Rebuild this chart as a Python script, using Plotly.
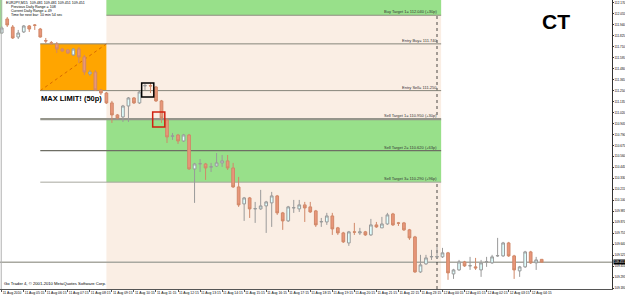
import plotly.graph_objects as go

# ---------------- data ----------------
bar_index = list(range(99))  # M15 bars, 11 Aug 04:15 -> 12 Aug 04:45
opens = [111.854,112.001,111.917,111.812,111.865,111.928,111.938,111.896,111.775,111.752,
         111.739,111.686,111.676,111.624,111.686,111.603,111.424,111.445,111.257,111.225,
         111.121,110.995,110.974,111.089,111.173,111.121,111.299,111.303,111.288,111.142,
         110.942,110.770,110.785,110.722,110.785,110.429,110.481,110.481,110.448,110.460,
         110.492,110.513,110.439,110.240,110.062,110.125,110.010,110.010,110.041,110.073,
         110.146,109.968,109.884,110.020,110.010,110.052,110.031,109.989,109.873,109.873,
         109.936,109.811,109.758,109.653,109.769,109.758,109.769,109.737,109.842,109.811,
         109.852,109.957,109.863,109.863,109.790,109.716,109.349,109.433,109.507,109.505,
         109.507,109.549,109.328,109.370,109.454,109.412,109.402,109.370,109.454,109.444,
         109.517,109.517,109.653,109.517,109.360,109.402,109.559,109.444,109.481]
highs = [111.928,112.022,111.938,111.886,111.938,111.938,111.948,111.907,111.802,111.770,
         111.760,111.697,111.686,111.697,111.707,111.624,111.466,111.466,111.267,111.236,
         111.142,111.005,111.100,111.183,111.183,111.246,111.320,111.330,111.299,111.152,
         110.963,110.806,110.796,110.796,110.796,110.492,110.533,110.492,110.492,110.596,
         110.575,110.575,110.492,110.345,110.135,110.135,110.083,110.209,110.094,110.188,
         110.156,109.978,110.041,110.104,110.104,110.083,110.083,109.999,109.915,109.968,
         109.968,109.821,109.769,109.779,109.863,109.811,109.779,109.905,109.873,109.926,
         109.968,109.968,109.873,109.873,109.800,109.727,109.528,109.528,109.580,109.612,
         109.601,109.559,109.381,109.475,109.465,109.507,109.496,109.475,109.507,109.528,
         109.706,109.664,109.664,109.528,109.412,109.570,109.570,109.507,109.481]
lows = [111.844,111.917,111.791,111.791,111.854,111.865,111.886,111.805,111.749,111.728,
        111.644,111.655,111.634,111.614,111.540,111.414,111.404,111.246,111.204,111.110,
        110.911,110.953,110.921,110.921,111.110,111.110,111.257,111.225,111.131,110.911,
        110.701,110.733,110.691,110.712,110.418,110.073,110.397,110.314,110.397,110.450,
        110.450,110.418,110.230,110.031,109.884,109.915,109.863,109.999,109.758,109.821,
        109.947,109.790,109.873,109.968,109.978,109.873,109.968,109.821,109.821,109.842,
        109.737,109.737,109.653,109.622,109.737,109.737,109.727,109.727,109.811,109.811,
        109.842,109.831,109.831,109.779,109.685,109.339,109.339,109.423,109.475,109.486,
        109.496,109.266,109.276,109.360,109.402,109.370,109.370,109.297,109.402,109.433,
        109.507,109.507,109.507,109.276,109.297,109.391,109.433,109.370,109.451]
closes = [111.907,111.938,111.802,111.854,111.928,111.896,111.935,111.812,111.770,111.749,
          111.686,111.666,111.644,111.686,111.603,111.445,111.445,111.257,111.225,111.121,
          110.995,110.963,111.089,111.173,111.121,111.236,111.303,111.299,111.142,110.963,
          110.764,110.775,110.722,110.785,110.429,110.481,110.485,110.439,110.452,110.492,
          110.513,110.439,110.240,110.052,110.125,110.010,110.013,110.041,110.083,110.146,
          109.968,109.884,110.031,110.023,110.052,110.020,109.978,109.842,109.877,109.936,
          109.800,109.758,109.664,109.769,109.766,109.769,109.737,109.842,109.821,109.852,
          109.947,109.842,109.860,109.790,109.706,109.349,109.423,109.496,109.510,109.510,
          109.549,109.339,109.370,109.454,109.412,109.415,109.391,109.444,109.457,109.507,
          109.520,109.653,109.517,109.370,109.402,109.559,109.444,109.475,109.451]

time_label_bars = list(range(0, 97, 4))
time_labels = ["11 Aug 2010"] + [f"11 Aug {h:02d}:15" for h in range(5, 24)] + \
              [f"12 Aug {h:02d}:15" for h in range(0, 5)]

price_ticks = [round(109.180 + 0.115 * k, 3) for k in range(27)]

level_names = ["Buy Target 1= 112.040 (+30p)", "Entry Buy= 111.740", "Entry Sell= 111.250",
               "Sell Target 1= 110.950 (+30p)", "Sell Target 2= 110.620 (+63p)",
               "Sell Target 3= 110.290 (+96p)"]
level_prices = [112.040, 111.740, 111.250, 110.950, 110.620, 110.290]
level_start_bar = [19, 7, 7, 7, 7, 7]

zone_start_bar = 19
zone_end_bar = 79.75
limit_start_bar = 7
day_separator_bar = 79
current_price = 109.451

# highlight boxes: (first bar, last bar, top price, bottom price, colour)
boxes = [(26, 27, 111.330, 111.183, "black"), (28, 29, 111.026, 110.869, "#D02010")]

# ---------------- figure ----------------
X0, X1 = -0.31, 110.76
Y0, Y1 = 109.17, 112.20

fig = go.Figure()
fig.add_trace(go.Candlestick(
    x=bar_index, open=opens, high=highs, low=lows, close=closes,
    increasing=dict(fillcolor="#E0FFFF", line=dict(color="#9A9A9A", width=1)),
    decreasing=dict(fillcolor="#E9967A", line=dict(color="#D08868", width=1)),
    whiskerwidth=0, showlegend=False, hoverinfo="skip"))

shapes = []
# beige session zone
shapes.append(dict(type="rect", xref="x", yref="paper", x0=zone_start_bar, x1=zone_end_bar,
                   y0=0, y1=1, fillcolor="#FAEEE4", line_width=0, layer="below"))
# green target zones
shapes.append(dict(type="rect", xref="x", yref="y", x0=zone_start_bar, x1=zone_end_bar,
                   y0=level_prices[0], y1=Y1, fillcolor="#98E08A", line_width=0, layer="below"))
shapes.append(dict(type="rect", xref="x", yref="y", x0=zone_start_bar, x1=zone_end_bar,
                   y0=level_prices[5], y1=level_prices[3], fillcolor="#98E08A", line_width=0,
                   layer="below"))
shapes.append(dict(type="rect", xref="x", yref="y", x0=X0, x1=0.1,
                   y0=111.85, y1=Y1, fillcolor="#98E08A", line_width=0, layer="below"))
# white info box (top-left)
shapes.append(dict(type="rect", xref="paper", yref="paper", x0=0.008, x1=0.092,
                   y0=1 - 17.5 / 289, y1=1 - 5 / 289, fillcolor="white", line_width=0,
                   layer="below"))
# orange max limit box
shapes.append(dict(type="rect", xref="x", yref="y", x0=limit_start_bar, x1=zone_start_bar,
                   y0=level_prices[2], y1=level_prices[1], fillcolor="#FFA500", line_width=0,
                   layer="below"))
shapes.append(dict(type="line", xref="x", yref="y", x0=limit_start_bar, x1=zone_start_bar,
                   y0=level_prices[2], y1=level_prices[1],
                   line=dict(color="#D86A00", width=1, dash="dot"), layer="below"))
# level lines
line_styles = [("#8E8E80", 1), ("#85857A", 1), ("#85857A", 1), ("#95958B", 2.2),
               ("#6E6E64", 1.2), ("#A8A89E", 1)]
for name, p, sb, (c, w) in zip(level_names, level_prices, level_start_bar, line_styles):
    shapes.append(dict(type="line", xref="x", yref="y", x0=sb, x1=zone_end_bar, y0=p, y1=p,
                       line=dict(color=c, width=w), layer="below"))
# current price line
shapes.append(dict(type="line", xref="paper", yref="y", x0=0, x1=1, y0=current_price,
                   y1=current_price, line=dict(color="#A8A8A0", width=1.5), layer="below"))
# day separator
shapes.append(dict(type="line", xref="x", yref="paper", x0=day_separator_bar,
                   x1=day_separator_bar, y0=0, y1=1,
                   line=dict(color="black", width=0.7, dash="dot"), layer="below"))
# left frame
shapes.append(dict(type="line", xref="paper", yref="paper", x0=0.002, x1=0.002, y0=0, y1=1,
                   line=dict(color="#B0B0B0", width=1)))
# highlight boxes
for b0, b1, ph, pl, c in boxes:
    shapes.append(dict(type="rect", xref="x", yref="y", x0=b0 - 0.6, x1=b1 + 0.6, y0=pl, y1=ph,
                       line=dict(color=c, width=1.5), fillcolor="rgba(0,0,0,0)"))

ann = []
for name, p in zip(level_names, level_prices):
    ann.append(dict(x=zone_end_bar - 0.3, y=p, xref="x", yref="y", text=name, showarrow=False,
                    xanchor="right", yanchor="bottom", yshift=-1,
                    font=dict(size=4, color="#333333", family="Liberation Sans")))
ann.append(dict(x=limit_start_bar - 0.2, y=level_prices[2], xref="x", yref="y",
                text="<b>MAX LIMIT! (50p)</b>", showarrow=False, xanchor="left", yanchor="top",
                yshift=-1, font=dict(size=7.5, color="black", family="Liberation Sans")))
ann.append(dict(x=0.909, y=0.925, xref="paper", yref="paper", text="<b>CT</b>", showarrow=False,
                xanchor="center", yanchor="middle",
                font=dict(size=21, color="black", family="Liberation Sans")))
info_lines = ["EURJPY,M15  109.481 109.481 109.451 109.451", "Previous Daily Range = 108",
              "Current Daily Range = 49", "Time for next bar: 10 min 54 sec"]
for k, t in enumerate(info_lines):
    ann.append(dict(x=0.006 if k == 0 else 0.014, y=1 - (2.7 + 4.0 * k) / 289, xref="paper",
                    yref="paper", text=t, showarrow=False, xanchor="left", yanchor="middle",
                    font=dict(size=3.6, color="black", family="Liberation Sans")))
ann.append(dict(x=0.003, y=1 - 283 / 289, xref="paper", yref="paper",
                text="Go Trader 4, © 2001-2010 MetaQuotes Software Corp.", showarrow=False,
                xanchor="left", yanchor="middle",
                font=dict(size=4.2, color="black", family="Liberation Sans")))
ann.append(dict(x=1.0, y=current_price, xref="paper", yref="y", text=f"{current_price:.3f}",
                showarrow=False, xanchor="left", yanchor="middle", xshift=1,
                bgcolor="black", borderpad=0,
                font=dict(size=3.0, color="white", family="Liberation Sans")))

fig.update_layout(
    width=625, height=296, margin=dict(l=0, r=13, t=0, b=7),
    paper_bgcolor="white", plot_bgcolor="white",
    shapes=shapes, annotations=ann, showlegend=False,
    xaxis=dict(range=[X0, X1], rangeslider=dict(visible=False), showgrid=False,
               zeroline=False, showline=True, linecolor="#555555", linewidth=1,
               tickmode="array", tickvals=time_label_bars, ticktext=time_labels,
               ticks="outside", ticklen=2, tickcolor="#555555", tickangle=0,
               automargin=False, ticklabelposition="outside right",
               tickfont=dict(size=3.4, color="black", family="Liberation Sans")),
    yaxis=dict(range=[Y0, Y1], side="right", showgrid=False, zeroline=False,
               showline=True, linecolor="#333333", linewidth=1, automargin=False,
               tickmode="array", tickvals=price_ticks,
               ticktext=[f"{v:.3f}" for v in price_ticks],
               ticks="outside", ticklen=1, tickcolor="#333333",
               tickfont=dict(size=3.0, color="black", family="Liberation Sans")),
)

fig.write_html("out.html")
